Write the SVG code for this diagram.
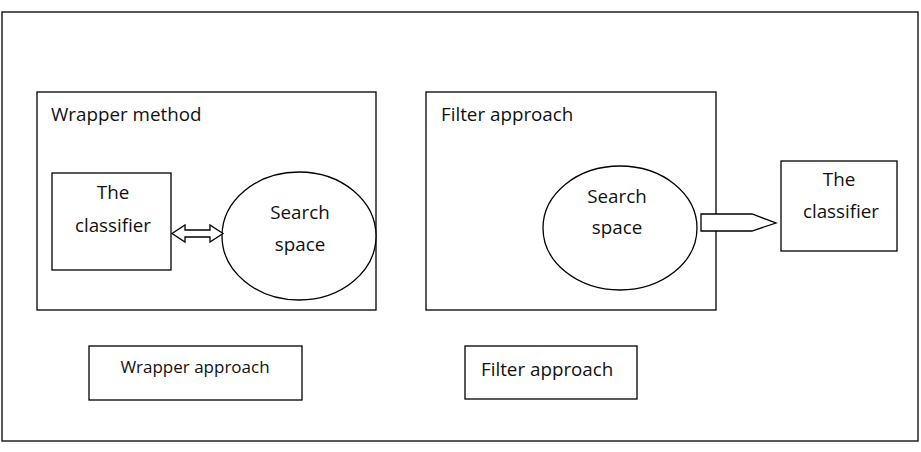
<svg xmlns="http://www.w3.org/2000/svg" width="921" height="452" viewBox="0 0 921 452">
<style>
.b{fill:#fff;stroke:#000;stroke-width:1.3}
.t{font-family:"Open Sans","Liberation Sans",sans-serif;font-size:18.8px;fill:#111}
.c{text-anchor:middle}
</style>
<rect x="0" y="0" width="921" height="452" fill="#fff"/>
<g id="frame"><rect x="2" y="12" width="916" height="429" fill="none" stroke="#222" stroke-width="1.5"/></g>
<g id="wrapper-method"><rect class="b" x="37" y="92" width="339" height="218"/><text class="t" x="51" y="121">Wrapper method</text></g>
<g id="filter-box"><rect class="b" x="426" y="92" width="290" height="218"/><text class="t" x="441" y="121">Filter approach</text></g>
<g id="classifier-left"><rect class="b" x="52" y="173" width="119" height="97"/><text class="t c" x="113" y="199">The</text><text class="t c" x="113" y="232">classifier</text></g>
<g id="search-left"><ellipse class="b" cx="299" cy="236" rx="77" ry="64"/><text class="t c" x="300" y="219">Search</text><text class="t c" x="300" y="251">space</text></g>
<g id="search-right"><ellipse class="b" cx="620" cy="228" rx="77" ry="62"/><text class="t c" x="617" y="203">Search</text><text class="t c" x="617" y="234">space</text></g>
<g id="classifier-right"><rect class="b" x="781" y="161" width="116" height="90"/><text class="t c" x="839" y="186">The</text><text class="t c" x="841" y="218">classifier</text></g>
<g id="wrapper-approach"><rect class="b" x="89" y="346" width="213" height="54"/><text class="t c" x="195" y="373" style="font-size:17px">Wrapper approach</text></g>
<g id="filter-approach"><rect class="b" x="465" y="346" width="172" height="53"/><text class="t" x="481" y="376">Filter approach</text></g>
<g id="connectors">
<polygon class="b" points="172,233.5 185,225 185,230 210,230 210,225 223,233.5 210,242 210,237 185,237 185,242"/>
<polygon class="b" points="701,214 752,214 776,223 752,231 701,231"/>
</g>
</svg>
